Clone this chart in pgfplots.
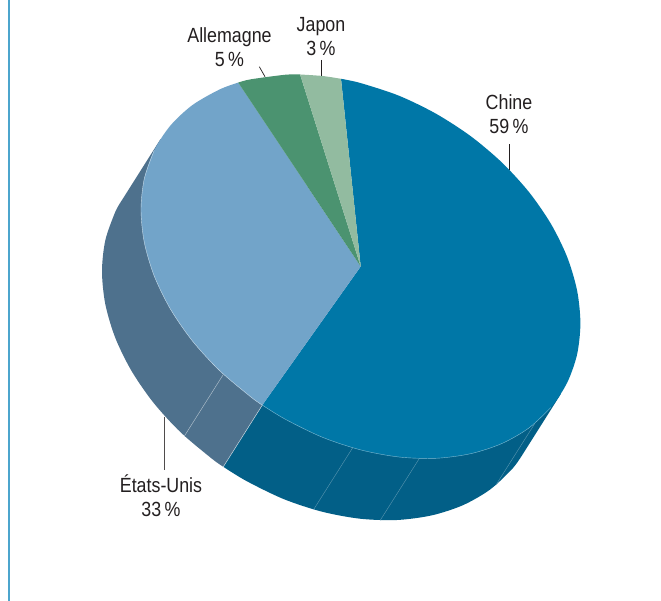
\documentclass[border=0pt]{standalone}
\usepackage{pgfplots}
\usepackage{fontspec}
\setmainfont[FakeStretch=0.87]{Liberation Sans}
\pgfplotsset{compat=1.18}

\definecolor{chine}{HTML}{0077A7}
\definecolor{chinedark}{HTML}{025F87}
\definecolor{usa}{HTML}{72A4C9}
\definecolor{usadark}{HTML}{4E718D}
\definecolor{allemagne}{HTML}{4B9370}
\definecolor{japon}{HTML}{92BBA0}
\definecolor{filet}{HTML}{4CA5CD}
\definecolor{texte}{HTML}{231F20}
\tikzset{lab/.style={text=texte, anchor=base, font=\fontsize{20.5}{20.5}\selectfont}}

\begin{document}
\begin{tikzpicture}[x=1pt,y=1pt]
\begin{axis}[
    width=661pt,
    height=601pt,
    scale only axis,
    hide axis,
    xmin=0, xmax=661,
    ymin=0, ymax=601,
    y dir=reverse,
    clip=true,
]
% page background, so the page keeps its full size
\addplot[fill=white, draw=none] coordinates {(0,0) (661,0) (661,601) (0,601)} -- cycle;

% rule on the left
\addplot[filet, line width=2pt] coordinates {(9,0) (9,601)};

% sides
\addplot[fill=usadark, draw=none, smooth] coordinates {
    (223.3,466.8) (211.8,458.6) (180.5,432.2) (153.4,402.6) (131.4,370.7) (115.2,337.6)
    (105.3,304.1) (102,271.4) (105.3,240.4) (115.2,212.1) (121.6,200.7)
} -- (160.6,139) -- (262.3,405.1) -- cycle;
\addplot[fill=chinedark, draw=none, smooth] coordinates {
    (521.8,455.7) (512,469.1) (490,489.6) (462.9,505.2) (431.6,515.4) (396.8,520)
    (359.9,518.7) (321.7,511.6) (283.5,499) (246.6,481.1) (223.3,466.8)
} -- (262.3,405.1) -- (560.8,394) -- cycle;

% joints on the sides
\addplot[white!60!usadark, line width=0.4pt] coordinates {(223.3,374.5) (184.3,436.2)};
\addplot[white!70!usadark, line width=0.5pt] coordinates {(262.3,405.1) (223.3,466.8)};
\addplot[white!35!chinedark, line width=0.4pt] coordinates {(352.7,447.7) (313.7,509.4)};
\addplot[white!35!chinedark, line width=0.4pt] coordinates {(419.3,458.5) (380.3,520.2)};
\addplot[white!35!chinedark, line width=0.4pt] coordinates {(535,423.2) (496,484.9)};

% top face
\addplot[fill=chine, draw=none, smooth] coordinates {
    (341,78.8) (360.7,83.1) (398.9,95.7) (435.8,113.6) (470.6,136.1) (501.9,162.5)
    (529,192.1) (551,224) (567.2,257.1) (577.1,290.6) (580.4,323.3) (577.1,354.3)
    (567.2,382.6) (551,407.4) (529,427.9) (501.9,443.5) (470.6,453.7) (435.8,458.3)
    (398.9,457) (360.7,449.9) (322.5,437.3) (285.6,419.4) (262.3,405.1)
} -- (360.7,266.5) -- cycle;
\addplot[fill=usa, draw=none, smooth] coordinates {
    (262.3,405.1) (250.8,396.9) (219.5,370.5) (192.4,340.9) (170.4,309) (154.2,275.9)
    (144.3,242.4) (141,209.7) (144.3,178.7) (154.2,150.4) (170.4,125.6) (192.4,105.1)
    (219.5,89.5) (238.2,82.6)
} -- (360.7,266.5) -- cycle;
\addplot[fill=allemagne, draw=none, smooth] coordinates {
    (238.2,82.6) (250.8,79.3) (285.6,74.7) (300.1,74.5)
} -- (360.7,266.5) -- cycle;
\addplot[fill=japon, draw=none, smooth] coordinates {
    (300.1,74.5) (322.5,76) (341,78.8)
} -- (360.7,266.5) -- cycle;

% pale edge along the front of the top face
\addplot[white!60!usa, line width=0.4pt, smooth] coordinates {
    (154.2,150.4) (144.3,178.7) (141,209.7) (144.3,242.4) (154.2,275.9) (170.4,309)
    (192.4,340.9) (219.5,370.5) (250.8,396.9) (262.3,405.1)
};
\addplot[white!50!chine, line width=0.4pt, smooth] coordinates {
    (262.3,405.1) (285.6,419.4) (322.5,437.3) (360.7,449.9) (398.9,457) (435.8,458.3)
    (470.6,453.7) (501.9,443.5) (529,427.9) (551,407.4)
};

% leader lines
\addplot[texte, line width=0.7pt] coordinates {(259.3,66.7) (265,76.7)};
\addplot[texte, line width=0.7pt] coordinates {(321.7,60) (321.7,75.7)};
\addplot[texte, line width=0.7pt] coordinates {(509,144.3) (509,170)};
\addplot[texte!80, line width=0.9pt] coordinates {(164,416.7) (164,470)};

% labels
\node[lab] at (axis cs:229.5,43) {Allemagne};
\node[lab] at (axis cs:229.5,67) {5\,\%};
\node[lab] at (axis cs:321,32) {Japon};
\node[lab] at (axis cs:321,56) {3\,\%};
\node[lab] at (axis cs:509,110) {Chine};
\node[lab] at (axis cs:509,134) {59\,\%};
\node[lab] at (axis cs:161,492) {États-Unis};
\node[lab] at (axis cs:161,516) {33\,\%};
\end{axis}
\end{tikzpicture}
\end{document}
